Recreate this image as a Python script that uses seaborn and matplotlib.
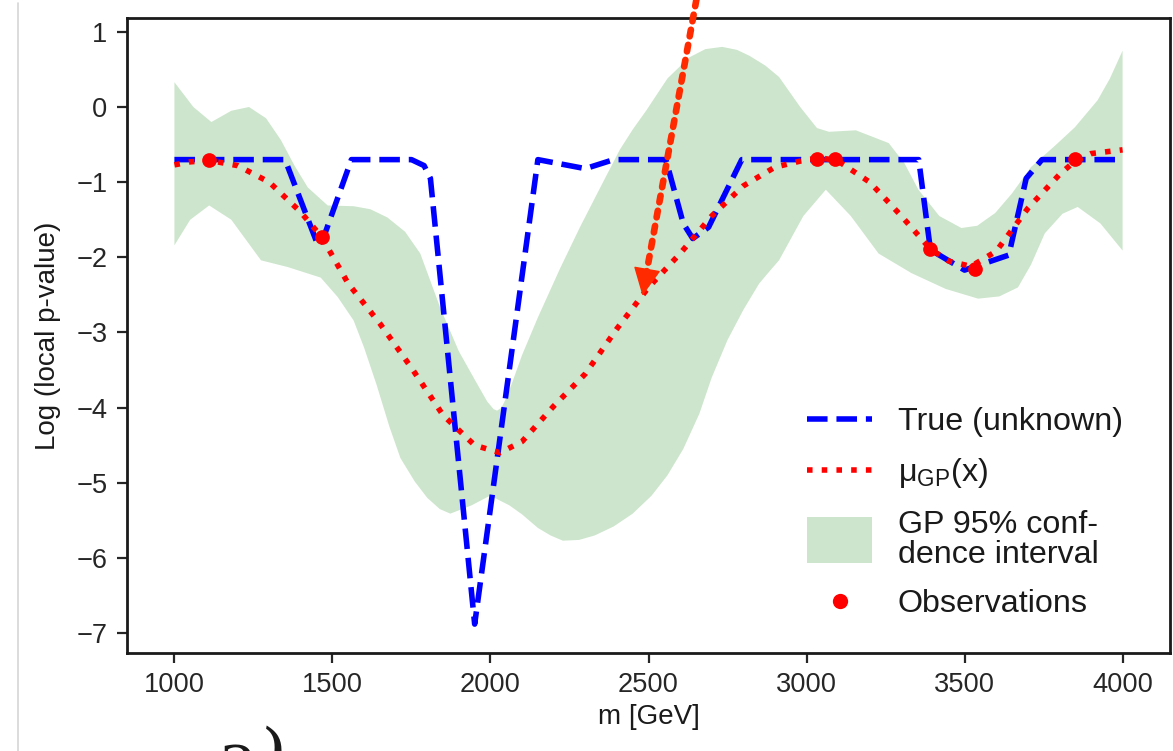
import numpy as np
import matplotlib
matplotlib.use("Agg")
import matplotlib.pyplot as plt
import matplotlib.patches as mpatches
from matplotlib.lines import Line2D
from matplotlib.legend_handler import HandlerPatch
import seaborn as sns

# ---------------- data ----------------
true_m = [1000, 1350, 1455, 1475, 1560, 1750, 1790, 1810, 1950, 2150, 2300, 2390,
          2555, 2610, 2640, 2690, 2795, 3355, 3392, 3500, 3640, 3695, 3745, 4000]
true_logp = [-0.70, -0.70, -1.85, -1.70, -0.70, -0.70, -0.78, -0.95, -6.88, -0.70, -0.82, -0.70,
             -0.70, -1.55, -1.75, -1.60, -0.70, -0.70, -1.90, -2.17, -1.97, -0.95, -0.70, -0.70]

mu_m = [1000, 1050, 1110, 1200, 1300, 1400, 1466, 1550, 1650, 1750, 1850, 1950, 2030,
        2100, 2200, 2300, 2400, 2500, 2600, 2700, 2800, 2900, 3000, 3050, 3100, 3200,
        3300, 3392, 3450, 3520, 3600, 3700, 3800, 3849, 3900, 4000]
mu_logp = [-0.77, -0.73, -0.71, -0.78, -1.00, -1.40, -1.73, -2.35, -2.88, -3.47, -4.10, -4.50, -4.60,
           -4.45, -3.98, -3.55, -2.95, -2.40, -1.95, -1.45, -1.05, -0.80, -0.70, -0.68, -0.72, -1.00,
           -1.45, -1.89, -2.05, -2.12, -1.92, -1.35, -0.90, -0.72, -0.62, -0.57]

upper_m = [1000, 1060, 1117, 1180, 1236, 1290, 1337, 1380, 1422, 1485, 1567, 1620, 1674,
           1730, 1778, 1841, 1900, 1952, 1990, 2010, 2021, 2035, 2050, 2071, 2100, 2150,
           2220, 2283, 2350, 2409, 2450, 2494, 2560, 2629, 2680, 2733, 2780, 2820, 2870,
           2913, 2980, 3033, 3071, 3156, 3260, 3310, 3354, 3420, 3490, 3540, 3597, 3650,
           3710, 3790, 3849, 3921, 3960, 4000]
upper_logp = [0.33, 0.00, -0.20, -0.05, 0.00, -0.15, -0.44, -0.78, -1.07, -1.31, -1.32, -1.36, -1.47,
              -1.66, -1.95, -2.67, -3.25, -3.64, -3.92, -4.02, -4.04, -4.00, -3.87, -3.64, -3.30, -2.80,
              -2.15, -1.60, -1.05, -0.57, -0.30, -0.04, 0.38, 0.66, 0.77, 0.80, 0.76, 0.68, 0.55,
              0.40, 0.00, -0.28, -0.33, -0.31, -0.48, -0.75, -1.10, -1.45, -1.61, -1.58, -1.41, -1.15,
              -0.80, -0.50, -0.27, 0.09, 0.38, 0.75]

lower_m = [1000, 1050, 1110, 1180, 1274, 1359, 1463, 1517, 1567, 1600, 1640, 1680, 1715,
           1760, 1800, 1840, 1873, 1940, 1999, 2060, 2100, 2150, 2190, 2229, 2280, 2330,
           2390, 2450, 2510, 2560, 2610, 2661, 2700, 2750, 2800, 2850, 2880, 2913, 2990,
           3061, 3140, 3228, 3332, 3440, 3543, 3610, 3669, 3710, 3754, 3810, 3858, 3930, 4000]
lower_logp = [-1.84, -1.50, -1.31, -1.50, -2.04, -2.13, -2.27, -2.53, -2.84, -3.20, -3.70, -4.25, -4.67,
              -4.98, -5.20, -5.35, -5.41, -5.30, -5.17, -5.30, -5.42, -5.60, -5.70, -5.77, -5.76, -5.70,
              -5.58, -5.41, -5.17, -4.90, -4.55, -4.08, -3.60, -3.10, -2.70, -2.35, -2.20, -2.04, -1.45,
              -1.10, -1.45, -1.95, -2.21, -2.42, -2.55, -2.52, -2.40, -2.10, -1.68, -1.42, -1.33, -1.55, -1.91]

obs_m = [1110, 1466, 3033, 3090, 3392, 3534, 3849]
obs_logp = [-0.70, -1.73, -0.69, -0.69, -1.89, -2.16, -0.69]

arrow_tail = (2669, 1.83)
arrow_tip = (2481, -2.51)
arrow_head_base = (2493, -2.22)

labels = ["True (unknown)", "μ$_\\mathregular{GP}$(x)", "GP 95% conf-\ndence interval", "Observations"]

# ---------------- style ----------------
sns.set_style("ticks")
plt.rcParams.update({
    "font.family": ["Liberation Sans", "DejaVu Sans"],
    "mathtext.fontset": "custom",
    "mathtext.rm": "Liberation Sans",
    "axes.edgecolor": "0.1",
    "axes.linewidth": 1.0,
    "xtick.major.size": 3.5, "ytick.major.size": 3.5,
    "xtick.major.width": 0.8, "ytick.major.width": 0.8,
    "xtick.color": "0.15", "ytick.color": "0.15",
    "text.color": "0.1", "axes.labelcolor": "0.1",
})

fig = plt.figure(figsize=(5.865, 3.755), dpi=200)
ax = fig.add_axes([127 / 1173, 1 - 653 / 751, 1043 / 1173, 635 / 751])

band = ax.fill(np.concatenate([upper_m, lower_m[::-1]]),
               np.concatenate([upper_logp, lower_logp[::-1]]),
               color="g", alpha=0.2, lw=0, zorder=1)[0]

sns.lineplot(x=true_m, y=true_logp, ax=ax, color="b", lw=2.0, linestyle="--", zorder=3)
sns.lineplot(x=mu_m, y=mu_logp, ax=ax, color="r", lw=2.0, linestyle=":", zorder=4)
sns.scatterplot(x=obs_m, y=obs_logp, ax=ax, color="r", s=28, linewidth=0, zorder=5)

# arrow from outside the axes
arrow_c = "#ff2a00"
ax.annotate("", xy=arrow_head_base, xytext=arrow_tail,
            arrowprops=dict(arrowstyle="-", color=arrow_c, lw=2.4, ls=(0, (1, 1.3)),
                            shrinkA=0, shrinkB=0),
            annotation_clip=False, zorder=6)
ax.annotate("", xy=arrow_tip, xytext=arrow_head_base,
            arrowprops=dict(arrowstyle="-|>,head_length=0.45,head_width=0.22", color=arrow_c,
                            lw=0.5, mutation_scale=20, shrinkA=0, shrinkB=0),
            annotation_clip=False, zorder=6)

ax.set_xlabel("m [GeV]", fontsize=10, labelpad=2)
ax.set_ylabel("Log (local p-value)", fontsize=10)
ax.yaxis.set_label_coords(-0.0636, 0.5)
ax.tick_params(labelsize=9.8)
ax.set_xticks([1000, 1500, 2000, 2500, 3000, 3500, 4000])
ax.set_yticks([1, 0, -1, -2, -3, -4, -5, -6, -7])
for s in ["top", "right"]:
    ax.spines[s].set_visible(True)


def tall_patch(legend, orig_handle, xdescent, ydescent, width, height, fontsize):
    return mpatches.Rectangle((-xdescent, -ydescent - 0.5 * height), width, 2.0 * height)


h_true = Line2D([], [], color="b", lw=2.0, ls="--")
h_mu = Line2D([], [], color="r", lw=2.0, ls=":")
h_band = mpatches.Patch(color="g", alpha=0.2, lw=0)
h_obs = Line2D([], [], color="r", marker="o", ls="", ms=5.5, mew=0)
leg = ax.legend([h_true, h_mu, h_band, h_obs], labels, loc="lower right", frameon=False,
                fontsize=11.6, labelspacing=0.6, borderaxespad=0,
                bbox_to_anchor=(0.967, 0.033),
                handler_map={mpatches.Patch: HandlerPatch(patch_func=tall_patch)})
for t in leg.get_texts():
    t.set_linespacing(1.0)

# screenshot artefacts: thin grey border line and cut-off caption
fig.add_artist(Line2D([18 / 1173, 18 / 1173], [0, 1 - 3 / 751], transform=fig.transFigure,
                      color="#d6d6d6", lw=0.6))
fig.text(220 / 1173, 1 - 792 / 751, "2", fontsize=26, family="Liberation Serif", color="0.1")
fig.text(258 / 1173, 1 - 780 / 751, ")", fontsize=28, family="Liberation Serif", color="0.1",
         style="italic")

fig.savefig("out.png", dpi=200)
